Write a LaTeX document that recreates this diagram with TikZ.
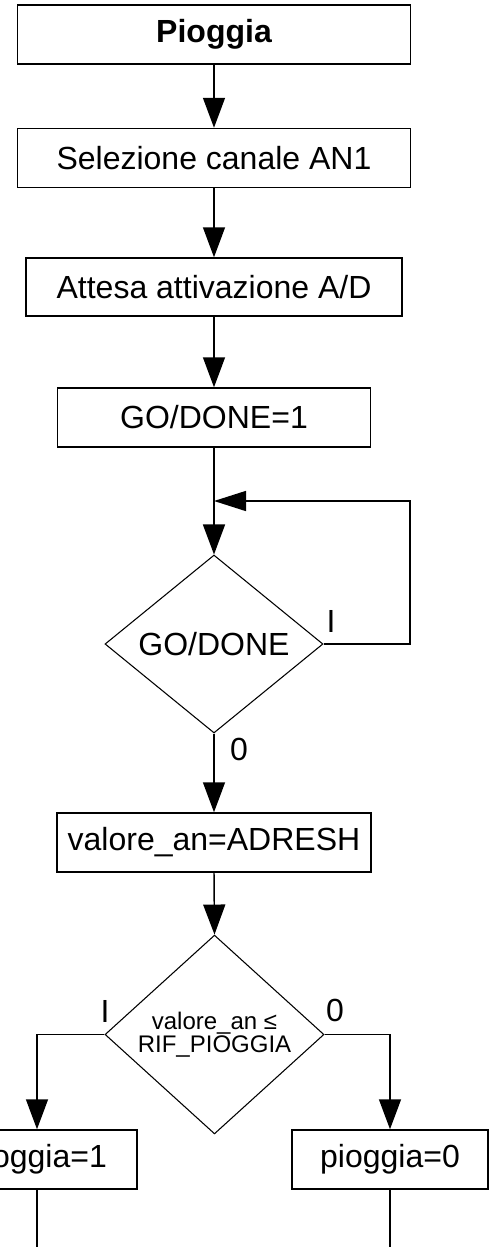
\documentclass[tikz,border=0pt]{standalone}
\usepackage{fontspec}
\setmainfont{Liberation Sans}
\usetikzlibrary{arrows.meta,shapes.geometric}
\begin{document}
\begin{tikzpicture}[x=0.75pt,y=-0.75pt,
  procbox/.style={draw, line width=1.1pt, minimum height=59*0.75pt, inner sep=0pt,
    font=\fontsize{24}{28}\selectfont},
  decision/.style={draw, diamond, line width=0.8pt, inner sep=0pt, align=center},
  plain/.style={line width=1.1pt},
  flow/.style={plain, -{Triangle[length=22.5pt,width=16.5pt]}},
  loopflow/.style={plain, -{Triangle[length=24pt,width=15pt]}},
  branchlabel/.style={inner sep=0pt, font=\fontsize{24}{28}\selectfont}]
\useasboundingbox (0,0) rectangle (489,1247);
\clip (0,0) rectangle (489,1247);

% process boxes
\node[procbox, minimum width=393*0.75pt, font=\bfseries\fontsize{24}{28}\selectfont] (start) at (214,34.5) {Pioggia};
\node[procbox, minimum width=393*0.75pt] (sel) at (214,158) {Selezione canale AN1};
\node[procbox, minimum width=376*0.75pt, minimum height=58*0.75pt] (wait) at (214,287) {Attesa attivazione A/D};
\node[procbox, minimum width=313*0.75pt] (go) at (214,417.5) {GO/DONE=1};

% conversion-complete test
\node[decision, minimum width=218*0.75pt, minimum height=178*0.75pt,
  font=\fontsize{24}{28}\selectfont] (busy) at (214,644) {GO/DONE};
\node[procbox, minimum width=314*0.75pt] (read) at (214,842.5) {valore\_an=ADRESH};

% threshold test
\node[decision, minimum width=219*0.75pt, minimum height=181*0.75pt,
  font=\fontsize{18}{17.5}\selectfont] (cmp) at (214.5,1034.5) {valore\_an ≤\\RIF\_PIOGGIA};
\node[procbox, minimum width=200*0.75pt] (wet) at (37,1159.5) {pioggia=1};
\node[procbox, minimum width=196*0.75pt] (dry) at (390,1159.5) {pioggia=0};

% helper points
\coordinate (j) at (214,501);
\coordinate (loopx) at (410,501);
\coordinate (wetout) at (37,1270);
\coordinate (dryout) at (390,1270);

% connectors
\draw[flow] (start) -- (sel);
\draw[flow] (sel) -- (wait);
\draw[flow] (wait) -- (go);
\draw[plain] (go.south) -- (j);
\draw[flow] (j) -- (busy.north);
\draw[loopflow] (busy.east) -| (loopx) -- (j);
\draw[flow] (busy.south) -- (read.north);
\draw[flow] (read.south) -- (cmp.north);
\draw[flow] (cmp.west) -| (wet.north);
\draw[flow] (cmp.east) -| (dry.north);
\draw[plain] (wet.south) -- (wetout);
\draw[plain] (dry.south) -- (dryout);

% branch labels
\node[branchlabel] (busyyes) at (331,621) {I};
\node[branchlabel] (busyno) at (239,749) {0};
\node[branchlabel] (cmpyes) at (105,1011) {I};
\node[branchlabel] (cmpno) at (335,1010) {0};
\end{tikzpicture}
\end{document}
